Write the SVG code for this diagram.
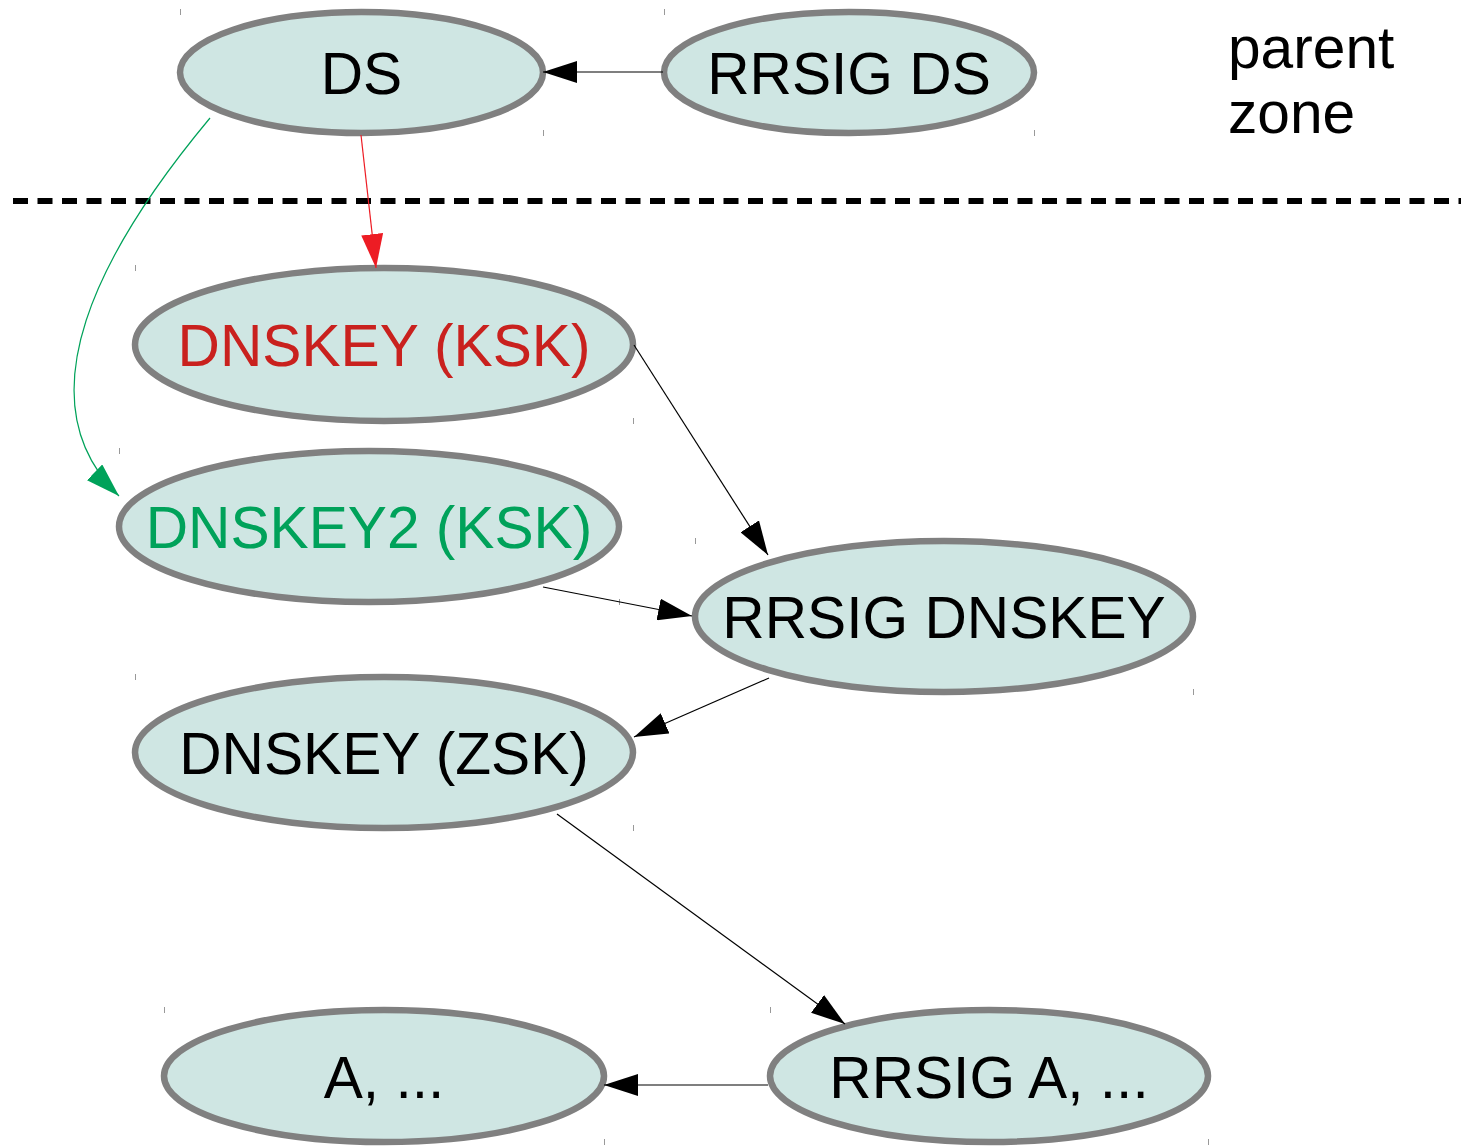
<svg xmlns="http://www.w3.org/2000/svg" width="1461" height="1146" viewBox="0 0 1461 1146">
<style>
.node ellipse{fill:#cfe6e3;stroke:#808080;stroke-width:6.5}
.node text,.label{font-family:"Liberation Sans",Arial,sans-serif;font-size:58.67px;fill:#000}
.node text{text-anchor:middle}
.conn{fill:none;stroke:#000;stroke-width:1.2}
.tick{stroke:#999;stroke-width:1}
</style>
<defs>
<marker id="ah" markerUnits="userSpaceOnUse" markerWidth="34" markerHeight="22" refX="34" refY="11" orient="auto" viewBox="0 0 34 22"><path d="M0,0 L34,11 L0,22 z" fill="#000"/></marker>
<marker id="ahr" markerUnits="userSpaceOnUse" markerWidth="34" markerHeight="22" refX="34" refY="11" orient="auto" viewBox="0 0 34 22"><path d="M0,0 L34,11 L0,22 z" fill="#ed1c24"/></marker>
<marker id="ahg" markerUnits="userSpaceOnUse" markerWidth="34" markerHeight="22" refX="34" refY="11" orient="auto" viewBox="0 0 34 22"><path d="M0,0 L34,11 L0,22 z" fill="#00a25a"/></marker>
</defs>
<rect width="1461" height="1146" fill="#fff"/>
<line x1="13" y1="201" x2="1461" y2="201" stroke="#000" stroke-width="6" stroke-dasharray="15 9.5"/>
<text class="label" x="1228" y="68">parent</text>
<text class="label" x="1228" y="133">zone</text>
<g id="ticks">
<line class="tick" x1="180.5" y1="9" x2="180.5" y2="15"/><line class="tick" x1="543.5" y1="130" x2="543.5" y2="136"/>
<line class="tick" x1="664.5" y1="9" x2="664.5" y2="15"/><line class="tick" x1="1034.5" y1="130" x2="1034.5" y2="136"/>
<line class="tick" x1="135.5" y1="265" x2="135.5" y2="271"/><line class="tick" x1="633.5" y1="418" x2="633.5" y2="424"/>
<line class="tick" x1="119.5" y1="448" x2="119.5" y2="454"/><line class="tick" x1="619.5" y1="599" x2="619.5" y2="605"/>
<line class="tick" x1="695.5" y1="538" x2="695.5" y2="544"/><line class="tick" x1="1193.5" y1="689" x2="1193.5" y2="695"/>
<line class="tick" x1="135.5" y1="674" x2="135.5" y2="680"/><line class="tick" x1="633.5" y1="825" x2="633.5" y2="831"/>
<line class="tick" x1="164.5" y1="1007" x2="164.5" y2="1013"/><line class="tick" x1="604.5" y1="1139" x2="604.5" y2="1145"/>
<line class="tick" x1="770.5" y1="1007" x2="770.5" y2="1013"/><line class="tick" x1="1208.5" y1="1139" x2="1208.5" y2="1145"/>
</g>
<g id="nodes">
<g id="ds" class="node"><ellipse cx="361.5" cy="72.5" rx="181.5" ry="60.5"/><text x="361.5" y="93.5">DS</text></g>
<g id="rrsig-ds" class="node"><ellipse cx="849" cy="72.5" rx="185" ry="60.5"/><text x="849" y="93.5">RRSIG DS</text></g>
<g id="dnskey-ksk" class="node"><ellipse cx="384" cy="344.5" rx="249" ry="76.5"/><text x="384" y="366" style="fill:#c9211e">DNSKEY (KSK)</text></g>
<g id="dnskey2-ksk" class="node"><ellipse cx="369" cy="526.5" rx="250" ry="75.5"/><text x="369" y="547.5" style="fill:#00a25a">DNSKEY2 (KSK)</text></g>
<g id="rrsig-dnskey" class="node"><ellipse cx="944" cy="616.5" rx="249" ry="75.5"/><text x="944" y="637.5">RRSIG DNSKEY</text></g>
<g id="dnskey-zsk" class="node"><ellipse cx="384" cy="752.5" rx="249" ry="75.5"/><text x="384" y="773.5">DNSKEY (ZSK)</text></g>
<g id="a" class="node"><ellipse cx="384" cy="1076" rx="220" ry="66"/><text x="384" y="1097.5">A, ...</text></g>
<g id="rrsig-a" class="node"><ellipse cx="989" cy="1076" rx="219" ry="66"/><text x="989" y="1097.5">RRSIG A, ...</text></g>
</g>
<g id="connectors">
<line class="conn" x1="663" y1="72" x2="543" y2="72" marker-end="url(#ah)"/>
<line class="conn" x1="361" y1="135" x2="376" y2="268" style="stroke:#ed1c24" marker-end="url(#ahr)"/>
<path class="conn" d="M210,118 C100,250 20,400 119,496" style="stroke:#00a25a" marker-end="url(#ahg)"/>
<line class="conn" x1="634" y1="345" x2="768" y2="555" marker-end="url(#ah)"/>
<line class="conn" x1="543" y1="587" x2="692" y2="616" marker-end="url(#ah)"/>
<line class="conn" x1="769" y1="678" x2="634" y2="737" marker-end="url(#ah)"/>
<line class="conn" x1="557" y1="814" x2="845" y2="1024" marker-end="url(#ah)"/>
<line class="conn" x1="768" y1="1085" x2="604" y2="1085" marker-end="url(#ah)"/>
</g>
</svg>
